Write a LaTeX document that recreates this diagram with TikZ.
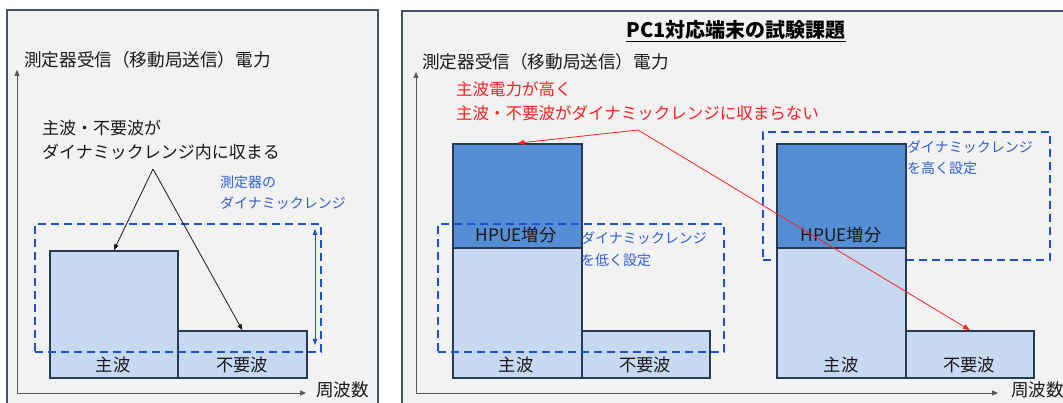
\documentclass[tikz,border=0pt]{standalone}
\usepackage{fontspec}
\newfontfamily\jp{Noto Sans CJK JP}
\usetikzlibrary{arrows.meta}
\definecolor{panelfill}{HTML}{F2F2F2}
\definecolor{panelline}{HTML}{44546A}
\definecolor{barlight}{HTML}{C6D9F1}
\definecolor{bardark}{HTML}{558ED5}
\definecolor{barline}{HTML}{263A55}
\definecolor{dashblue}{HTML}{1E50D2}
\definecolor{textblue}{HTML}{2F5FD3}
\definecolor{txtgray}{HTML}{1A1A1A}
\definecolor{axisgray}{HTML}{595959}
\definecolor{redline}{HTML}{FF2020}
\begin{document}
\begin{tikzpicture}[x=1pt,y=-1pt,
  panelbox/.style={draw=panelline,line width=1.5pt,fill=panelfill},
  txt/.style={inner sep=0pt,text=txtgray,font=\jp\fontsize{17}{20}\selectfont},
  axtxt/.style={txt,font=\jp\fontsize{17.6}{20}\selectfont},
  bartxt/.style={inner sep=0pt,text=txtgray,font=\jp\fontsize{17.3}{20}\selectfont},
  bluetxt/.style={inner sep=0pt,text=textblue,font=\jp\fontsize{14}{17}\selectfont},
  redtxt/.style={inner sep=0pt,text=redline,font=\jp\fontsize{16.5}{20}\selectfont},
  barbox/.style={draw=barline,line width=1.8pt,fill=barlight,inner sep=0pt,anchor=south west},
  hpuebox/.style={barbox,fill=bardark},
  rangebox/.style={draw=dashblue,line width=2pt,dash pattern=on 8pt off 5pt,inner sep=0pt,anchor=north west},
  axisline/.style={draw=axisgray,line width=1pt,-{Triangle[length=6pt,width=5pt]}},
  pointer/.style={draw=txtgray,line width=0.8pt,-{Triangle[length=6pt,width=4.5pt]}},
  redpointer/.style={draw=redline,line width=0.8pt,-{Triangle[length=7pt,width=5pt]}},
  spanarrow/.style={draw=dashblue,line width=0.8pt,{Triangle[length=6pt,width=4.5pt]}-{Triangle[length=6pt,width=4.5pt]}}
]
\useasboundingbox (0,0) rectangle (1063,403);
\fill[white] (0,0) rectangle (1063,403);
% panels
\path[panelbox] (7,10) rectangle (378,412);
\path[panelbox] (402,11) rectangle (1072,412);

% ===== left panel =====
\coordinate (oL) at (17,393);
\coordinate (yL) at (17,70);
\coordinate (xL) at (306,393);
\draw[axisline] (oL) -- (yL);
\draw[axisline] (oL) -- (xL);
\node[axtxt,anchor=west] (axL) at (24,60) {測定器受信（移動局送信）電力};
\node[axtxt,anchor=west] (fqL) at (316,390) {周波数};

\node[barbox,minimum width=128pt,minimum height=127pt] (mainL) at (49,379) {};
\node[barbox,minimum width=129pt,minimum height=47pt] (spurL) at (177,379) {};
\node[rangebox,minimum width=286pt,minimum height=128pt] (rngL) at (34,223) {};
\node[bartxt] (mainLt) at (113,365) {主波};
\node[bartxt] (spurLt) at (242,365) {不要波};

\node[bluetxt,anchor=west] (drL1) at (220,182) {測定器の};
\node[bluetxt,anchor=west] (drL2) at (220,203) {ダイナミックレンジ};
\coordinate (spanTop) at (315,229);
\coordinate (spanBot) at (315,345);
\draw[spanarrow] (spanTop) -- (spanBot);

\node[txt,anchor=west] (annL1) at (42,128) {主波・不要波が};
\node[txt,anchor=west] (annL2) at (42,152) {ダイナミックレンジ内に収まる};
\coordinate (annTip) at (153,169);
\draw[pointer] (annTip) -- (mainL.north);
\draw[pointer] (annTip) -- (spurL.north);

% ===== right panel =====
\node[inner sep=0pt,text=black,font=\jp\bfseries\fontsize{20}{24}\selectfont] (title) at (736,31) {\underline{PC1対応端末の試験課題}};
\coordinate (oR) at (416,393);
\coordinate (yR) at (416,72);
\coordinate (xR) at (998,393);
\draw[axisline] (oR) -- (yR);
\draw[axisline] (oR) -- (xR);
\node[axtxt,anchor=west] (axR) at (422,62) {測定器受信（移動局送信）電力};
\node[axtxt,anchor=west] (fqR) at (1011,390) {周波数};

% right sub-chart: range set high (drawn behind bars)
\node[rangebox,minimum width=287pt,minimum height=128pt] (rngH) at (762,131) {};

% middle sub-chart
\node[barbox,minimum width=129pt,minimum height=130pt] (mainM) at (452,379) {};
\node[hpuebox,minimum width=129pt,minimum height=104pt] (hpueM) at (452,249) {};
\node[barbox,minimum width=128pt,minimum height=47pt] (spurM) at (581,379) {};
\node[bartxt] (hpueMt) at (516,235) {HPUE増分};
\node[bartxt] (mainMt) at (516,365) {主波};
\node[bartxt] (spurMt) at (645,365) {不要波};
\node[rangebox,minimum width=286pt,minimum height=128pt] (rngM) at (437,223) {};
\node[bluetxt,anchor=west] (drM1) at (581,238) {ダイナミックレンジ};
\node[bluetxt,anchor=west] (drM2) at (581,260) {を低く設定};

% right sub-chart
\node[barbox,minimum width=129pt,minimum height=130pt] (mainH) at (776,379) {};
\node[hpuebox,minimum width=129pt,minimum height=104pt] (hpueH) at (776,249) {};
\node[barbox,minimum width=128pt,minimum height=47pt] (spurH) at (905,379) {};
\node[bartxt] (hpueHt) at (841,235) {HPUE増分};
\node[bartxt] (mainHt) at (841,365) {主波};
\node[bartxt] (spurHt) at (969,365) {不要波};
\node[bluetxt,anchor=west] (drH1) at (907,147) {ダイナミックレンジ};
\node[bluetxt,anchor=west] (drH2) at (907,168) {を高く設定};

% red annotation
\node[redtxt,anchor=west] (red1) at (456,89) {主波電力が高く};
\node[redtxt,anchor=west] (red2) at (456,113) {主波・不要波がダイナミックレンジに収まらない};
\coordinate (redTip) at (638,130);
\draw[redpointer] (redTip) -- (hpueM.north);
\draw[redpointer] (redTip) -- (spurH.north);
\end{tikzpicture}
\end{document}
